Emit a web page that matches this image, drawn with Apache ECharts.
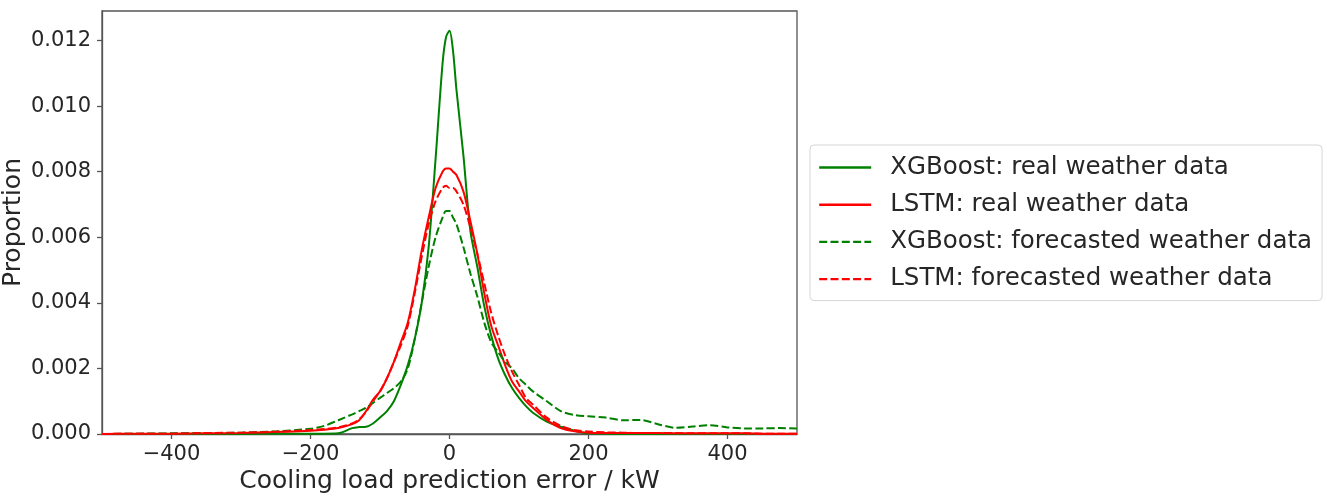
<!DOCTYPE html>
<html>
<head>
<meta charset="utf-8">
<script src="https://cdn.jsdelivr.net/npm/echarts@6/dist/echarts.min.js"></script>
<style>
html,body{margin:0;padding:0;background:#fff;}
#c{width:1327px;height:499px;}
</style>
</head>
<body>
<div id="c"></div>
<script>
// error values (kW)
const errorKW = [-500,-450,-400,-350,-300,-250,-200,-180,-160,-140,-130,-120,-110,-100,-90,-80,-70,-60,-50,-40,-30,-20,-10,-5,0,5,10,20,30,40,50,60,70,80,90,100,110,120,140,160,180,200,225,250,275,300,325,350,375,400,425,450,475,500];
const xgbReal = [0,0,0,0,0,0.00001,0.00001,0.00001,0.00002,0.00018,0.00021,0.00022,0.00032,0.0005,0.0007,0.001,0.0015,0.0021,0.0029,0.0040,0.0057,0.0084,0.0113,0.0121,0.0123,0.0117,0.0105,0.0085,0.0062,0.0051,0.0039,0.0030,0.0023,0.0018,0.0014,0.0011,0.00085,0.00065,0.00038,0.00022,0.0001,0.00002,0.00001,0,0,0,0,0,0,0,0,0,0,0];
const lstmReal = [0,0.00001,0.00001,0.00002,0.00003,0.00006,0.0001,0.00013,0.00018,0.0003,0.00042,0.0007,0.00105,0.0013,0.0017,0.0022,0.0028,0.0034,0.0044,0.0056,0.0066,0.0075,0.0080,0.0081,0.0081,0.0080,0.0079,0.0074,0.0065,0.0055,0.0043,0.0033,0.0027,0.0021,0.0016,0.0013,0.0010,0.0008,0.00043,0.00018,0.00008,0.00004,0.00003,0.00003,0.00003,0.00003,0.00002,0.00002,0.00002,0.00002,0.00002,0.00001,0.00001,0.00001];
const xgbForecast = [0,0.00001,0.00002,0.00003,0.00004,0.00008,0.00016,0.00025,0.00042,0.0006,0.0007,0.0008,0.00095,0.0011,0.00125,0.0014,0.0016,0.0020,0.0029,0.0040,0.0051,0.0060,0.0066,0.0068,0.0068,0.0066,0.0064,0.0057,0.0049,0.0042,0.0034,0.0028,0.0025,0.0022,0.0020,0.0017,0.0015,0.0013,0.0010,0.0007,0.00058,0.00054,0.0005,0.00042,0.00043,0.0003,0.00019,0.00023,0.00027,0.0002,0.00017,0.00017,0.00018,0.00017];
const lstmForecast = [0,0.00001,0.00001,0.00003,0.00004,0.00007,0.00012,0.00015,0.0002,0.00032,0.00045,0.00068,0.001,0.0013,0.0017,0.0022,0.0027,0.0033,0.0043,0.0054,0.0064,0.0071,0.0075,0.00757,0.0075,0.0075,0.0074,0.0070,0.0063,0.0055,0.0046,0.0037,0.0030,0.0024,0.0019,0.0015,0.0011,0.0009,0.0005,0.00025,0.00012,0.00008,0.00005,0.00004,0.00003,0.00003,0.00003,0.00002,0.00002,0.00002,0.00002,0.00001,0.00001,0.00001];
const xTicks = [-400,-200,0,200,400];
const seriesNames = ['XGBoost: real weather data','LSTM: real weather data','XGBoost: forecasted weather data','LSTM: forecasted weather data'];

const pair = arr => errorKW.map((x,i)=>[x,arr[i]]);
const FONT = 'DejaVu Sans';
const TXT = '#262626';
const AX = '#555';

const chart = echarts.init(document.getElementById('c'), null, {renderer:'canvas'});
function mk(name, data, color, dashed){
  return {
    name, type:'line', data, smooth:0.3, symbol:'none', showSymbol:false,
    lineStyle:{color, width:2, type: dashed ? [8,3.3] : 'solid'},
    itemStyle:{color}, animation:false, z: dashed ? 3 : 2
  };
}
chart.setOption({
  animation:false,
  backgroundColor:'#fff',
  grid:{left:102, right:530, top:11, bottom:65, show:true, borderColor:AX, borderWidth:1.3,
    backgroundColor:'transparent', containLabel:false, outerBoundsMode:'none'},
  legend:{
    orient:'vertical', left:810, top:145,
    padding:[10,10,9,8], itemGap:12.2, itemWidth:52, itemHeight:24,
    borderColor:'#d6d6d6', borderWidth:1, borderRadius:4,
    itemStyle:{opacity:0, borderWidth:0},
    lineStyle:{width:2.4},
    textStyle:{fontFamily:FONT, fontSize:24.5, color:TXT, padding:[0,0,0,14], lineHeight:24},
    data:seriesNames
  },
  xAxis:{
    type:'value', min:-500, max:500,
    name:'Cooling load prediction error / kW', nameLocation:'middle', nameGap:35,
    nameMoveOverlap:false,
    nameTextStyle:{fontFamily:FONT, fontSize:25, color:TXT},
    axisLine:{show:true, onZero:false, lineStyle:{color:AX, width:1.3}},
    axisTick:{show:true, length:5, customValues:xTicks, lineStyle:{color:AX, width:1.3}},
    axisLabel:{customValues:xTicks, fontFamily:FONT, fontSize:21, color:TXT, margin:10,
      formatter:v=>String(v).replace('-','\u2212')},
    splitLine:{show:false}
  },
  yAxis:{
    type:'value', min:0, max:0.0129, interval:0.002,
    name:'Proportion', nameLocation:'middle', nameGap:76,
    nameMoveOverlap:false,
    nameTextStyle:{fontFamily:FONT, fontSize:25, color:TXT},
    axisLine:{show:true, onZero:false, lineStyle:{color:AX, width:1.3}},
    axisTick:{show:true, length:5, lineStyle:{color:AX, width:1.3}},
    axisLabel:{fontFamily:FONT, fontSize:21, color:TXT, margin:11, showMaxLabel:false,
      formatter:v=> (Math.abs(v/0.002 - Math.round(v/0.002))<1e-6) ? v.toFixed(3) : ''},
    splitLine:{show:false}
  },
  series:[
    mk(seriesNames[0], pair(xgbReal), '#008000', false),
    mk(seriesNames[1], pair(lstmReal), '#ff0000', false),
    mk(seriesNames[2], pair(xgbForecast), '#008000', true),
    mk(seriesNames[3], pair(lstmForecast), '#ff0000', true)
  ]
});
</script>
</body>
</html>
